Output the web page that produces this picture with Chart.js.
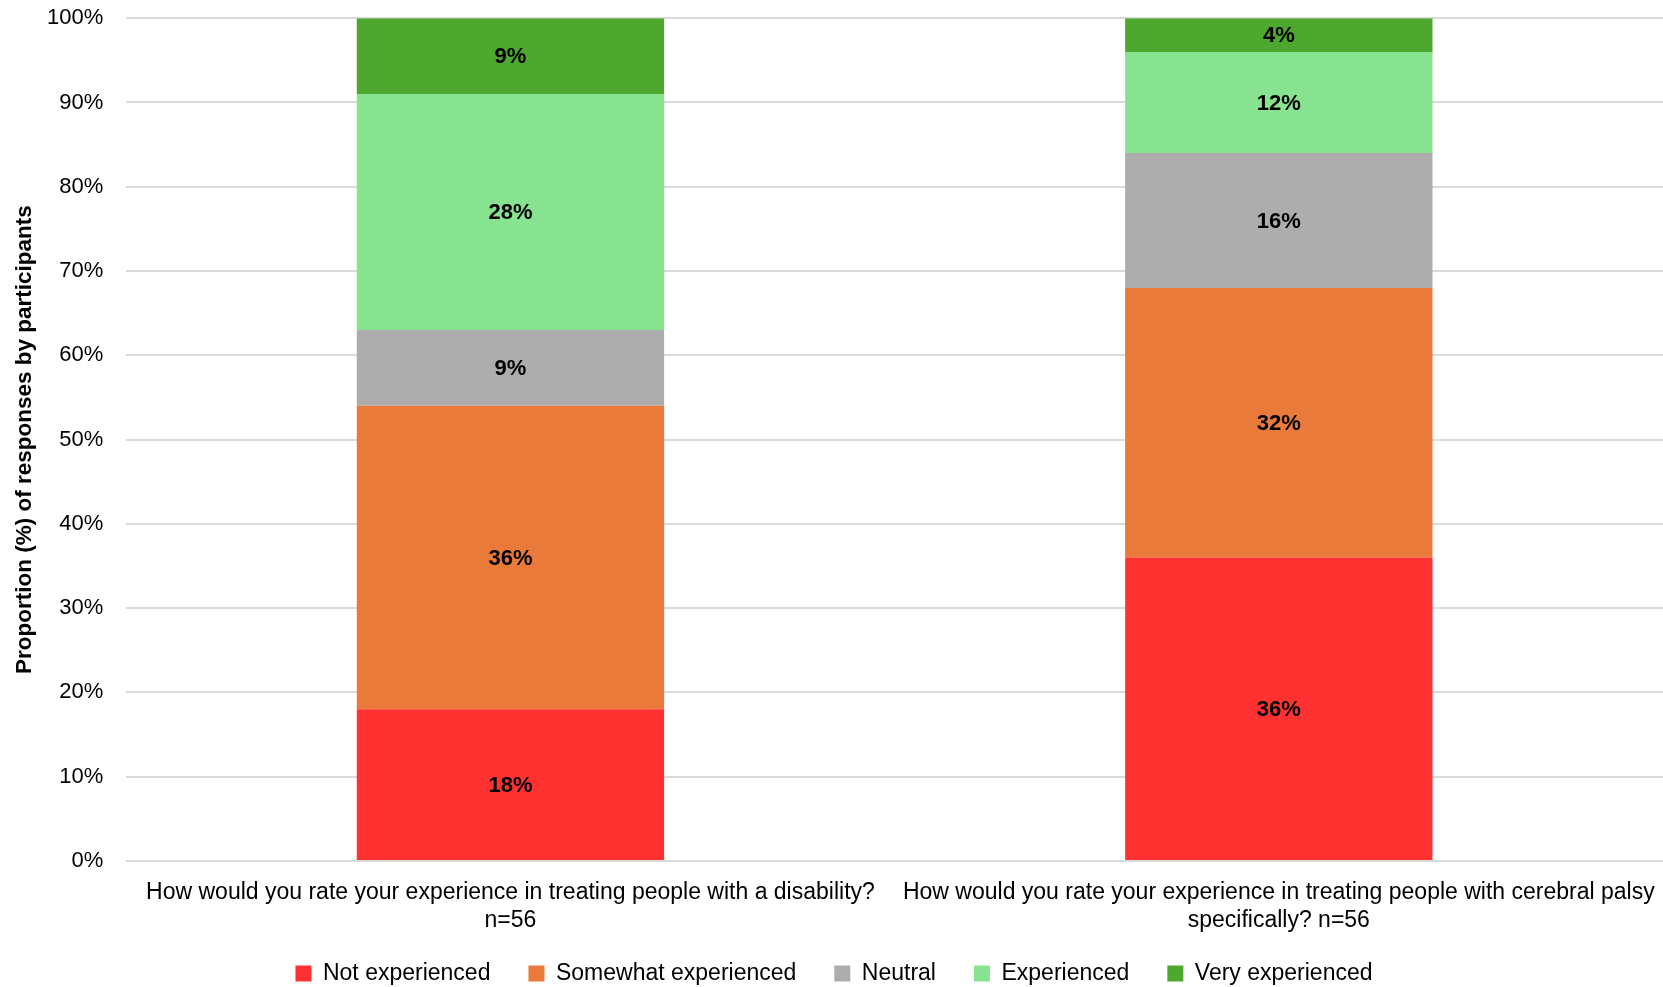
<!DOCTYPE html>
<html>
<head>
<meta charset="utf-8">
<script src="https://cdn.jsdelivr.net/npm/chart.js@4.4.1/dist/chart.umd.min.js"></script>
<style>
  html, body { margin: 0; padding: 0; background: #fff; }
  #wrap { width: 1663px; height: 987px; }
</style>
</head>
<body>
<div id="wrap"><canvas id="chart" width="1663" height="987"></canvas></div>
<script>
// categories (each one is split into its two printed lines)
const categories = [
  ["How would you rate your experience in treating people with a disability?", "n=56"],
  ["How would you rate your experience in treating people with cerebral palsy", "specifically? n=56"]
];

// series, bottom to top, values in % per category
const seriesNames = ["Not experienced", "Somewhat experienced", "Neutral", "Experienced", "Very experienced"];
const notExperienced      = [18, 36];
const somewhatExperienced = [36, 32];
const neutral             = [9, 16];
const experienced         = [28, 12];
const veryExperienced     = [9, 4];

const yTicks = [0, 10, 20, 30, 40, 50, 60, 70, 80, 90, 100];

const colors = ["#FF3131", "#EA7A3A", "#ADADAD", "#87E390", "#4EA72E"];
const FONT = "'Liberation Sans', Arial, sans-serif";
const X_OVERLAP = 11; // px the category labels may run into the legend's top padding

const seriesValues = [notExperienced, somewhatExperienced, neutral, experienced, veryExperienced];

// writes the % value in the middle of every segment
const segmentLabels = {
  id: "segmentLabels",
  afterLayout(chart) {
    // the x labels are clipped to the scale box, so give them their room back
    chart.scales.x.bottom += X_OVERLAP;
  },
  afterDatasetsDraw(chart) {
    const ctx = chart.ctx;
    ctx.save();
    ctx.fillStyle = "#000";
    ctx.font = "bold 22px " + FONT;
    ctx.textAlign = "center";
    ctx.textBaseline = "middle";
    chart.data.datasets.forEach((ds, i) => {
      const meta = chart.getDatasetMeta(i);
      meta.data.forEach((bar, j) => {
        const p = bar.getProps(["x", "y", "base"], true);
        ctx.fillText(ds.data[j] + "%", p.x, (p.y + p.base) / 2 + 1);
      });
    });
    ctx.restore();
  }
};

new Chart(document.getElementById("chart").getContext("2d"), {
  type: "bar",
  data: {
    labels: categories,
    datasets: seriesNames.map((name, i) => ({
      label: name,
      data: seriesValues[i],
      backgroundColor: colors[i],
      borderWidth: 0,
      barPercentage: 0.4,
      categoryPercentage: 1
    }))
  },
  options: {
    responsive: false,
    animation: false,
    devicePixelRatio: 1,
    layout: { padding: { top: 0, right: 0, left: 5, bottom: -8 } },
    plugins: {
      legend: {
        position: "bottom",
        labels: {
          color: "#000",
          font: { family: FONT, size: 23 },
          boxWidth: 16,
          boxHeight: 16,
          padding: 38
        }
      },
      tooltip: { enabled: false }
    },
    scales: {
      x: {
        stacked: true,
        // invisible tick marks only make room under the axis
        grid: { display: true, drawOnChartArea: false, drawTicks: true, tickLength: 17, tickColor: "rgba(0,0,0,0)" },
        border: { display: false },
        ticks: {
          color: "#000",
          font: { family: FONT, size: 23, lineHeight: 1.24 },
          maxRotation: 0,
          minRotation: 0,
          autoSkip: false,
          padding: 0
        },
        afterFit: axis => { axis.height -= X_OVERLAP; }
      },
      y: {
        stacked: true,
        min: 0,
        max: 100,
        afterBuildTicks: axis => { axis.ticks = yTicks.map(v => ({ value: v })); },
        grid: { color: "#DADADA", lineWidth: 2, drawTicks: true, tickLength: 18, tickColor: "rgba(0,0,0,0)" },
        border: { display: false },
        ticks: {
          color: "#000",
          font: { family: FONT, size: 22 },
          padding: 5,
          callback: v => v + "%"
        },
        title: {
          display: true,
          text: "Proportion (%) of responses by participants",
          color: "#000",
          font: { family: FONT, size: 22.5, weight: "bold" },
          padding: { top: 6, bottom: 4 }
        }
      }
    }
  },
  plugins: [segmentLabels]
});
</script>
</body>
</html>
